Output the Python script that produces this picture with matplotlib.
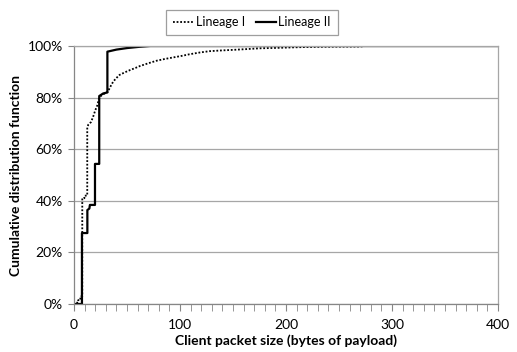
import matplotlib
matplotlib.use("Agg")
import matplotlib.pyplot as plt
from matplotlib.ticker import MultipleLocator, FuncFormatter

# Lineage I (dotted) - packet size (bytes) vs CDF (%)
lin1_x = [0, 2, 2, 4, 4, 6, 6, 7.8, 7.8, 9.8, 9.8, 12.5, 12.5, 13.5, 16, 18, 20, 22, 23.5,
          25, 27, 29, 32, 34, 37, 40, 43, 48, 53, 58, 62, 70, 78, 86, 94, 102, 109,
          119, 128, 140, 150, 163, 175, 185, 194, 205, 219, 235, 250, 270, 275, 400]
lin1_y = [0, 0, 0.5, 0.5, 1.5, 1.5, 3, 3, 41, 41, 42, 42, 68.5, 69.5, 70.5, 72.5, 75, 77,
          79.5, 80.5, 81.2, 81.6, 82.3, 84, 86.2, 87.6, 88.8, 89.8, 90.7, 91.5, 92.2,
          93.3, 94.3, 95, 95.6, 96.2, 96.8, 97.5, 98, 98.3, 98.5, 98.8, 99.1, 99.2, 99.3,
          99.45, 99.6, 99.7, 99.75, 99.8, 100, 100]

# Lineage II (solid)
lin2_x = [0, 7.5, 7.5, 12.6, 12.6, 14.5, 15, 19.8, 19.8, 23.8, 23.8, 27.5, 31.5, 31.5,
          40, 50, 62, 72, 400]
lin2_y = [0, 0, 27.5, 27.5, 36.4, 37, 38.4, 38.4, 54.3, 54.3, 80.6, 81.6, 82, 97.8,
          98.6, 99.2, 99.7, 100, 100]

legend_labels = ["Lineage I", "Lineage II"]

plt.rcParams['font.family'] = ['Lato', 'DejaVu Sans']

fig = plt.figure(figsize=(5.17, 3.52), dpi=100)
ax = fig.add_axes([74 / 517, 1 - 304 / 352, (498 - 74) / 517, (304 - 46) / 352])

grid_col = "#a6a6a6"
ax.plot(lin1_x, lin1_y, color="black", linestyle=(0, (1, 1)), linewidth=1.3, label=legend_labels[0])
ax.plot(lin2_x, lin2_y, color="black", linestyle="-", linewidth=1.6, label=legend_labels[1])

ax.set_xlim(0, 400)
ax.set_ylim(0, 100)
ax.xaxis.set_major_locator(MultipleLocator(100))
ax.xaxis.set_minor_locator(MultipleLocator(10))
ax.yaxis.set_major_locator(MultipleLocator(20))
ax.yaxis.set_major_formatter(FuncFormatter(lambda v, p: "%d%%" % v))
ax.grid(axis="y", color=grid_col, linewidth=0.9)
ax.set_axisbelow(True)

for s in ax.spines.values():
    s.set_color(grid_col)
    s.set_linewidth(0.9)
ax.spines["left"].set_color("#868686")
ax.spines["bottom"].set_color("#868686")

ax.tick_params(axis="both", which="both", direction="out", color="#868686", labelsize=10,
               labelcolor="black")
ax.tick_params(axis="x", which="major", length=5, pad=6)
ax.tick_params(axis="x", which="minor", length=5)
ax.tick_params(axis="y", length=4, pad=4)

ax.set_xlabel("Client packet size (bytes of payload)", fontsize=10, fontweight="bold", labelpad=2)
ax.set_ylabel("Cumulative distribution function", fontsize=10, fontweight="bold", labelpad=4)

leg = fig.legend(loc="center", bbox_to_anchor=(252 / 517, 1 - 22.5 / 352), ncol=2, frameon=True,
                 fancybox=False, edgecolor="#868686", fontsize=9, handlelength=1.6,
                 columnspacing=0.9, handletextpad=0.2, borderpad=0.55)
leg.get_frame().set_linewidth(0.9)

fig.savefig("out.png", dpi=100)
